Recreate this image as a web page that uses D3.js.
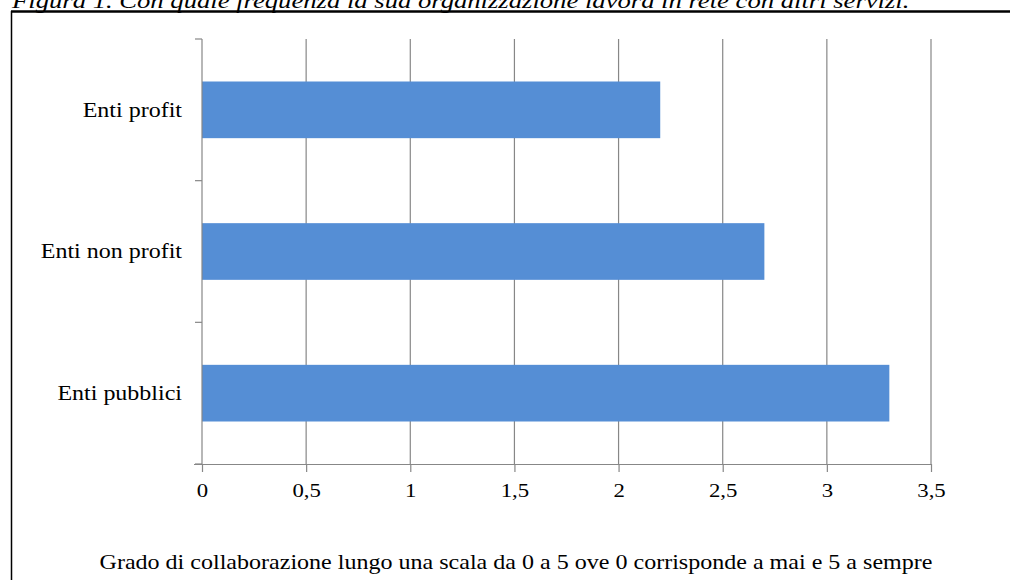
<!DOCTYPE html>
<html>
<head>
<meta charset="utf-8">
<script src="https://cdn.jsdelivr.net/npm/d3@7"></script>
<style>
  html, body { margin: 0; padding: 0; background: #fff; }
  svg { display: block; }
</style>
</head>
<body>
<svg id="chart" width="1010" height="580"></svg>
<script>
// Data
const categories = ["Enti profit", "Enti non profit", "Enti pubblici"];
const values = [2.2, 2.7, 3.3];
const tickValues = [0, 0.5, 1, 1.5, 2, 2.5, 3, 3.5];
const tickLabels = ["0", "0,5", "1", "1,5", "2", "2,5", "3", "3,5"];
const titleText = "Figura 1. Con quale frequenza la sua organizzazione lavora in rete con altri servizi.";
const axisTitle = "Grado di collaborazione lungo una scala da 0 a 5 ove 0 corrisponde a mai e 5 a sempre";

const FONT = '"Liberation Serif", "Times New Roman", "DejaVu Serif", serif';
const svg = d3.select("#chart");
const W = 1010, H = 580;
const plot = { left: 202, right: 931, top: 39, bottom: 464 };
const gridColor = "#878787";
const barColor = "#558ed5";

// Stretch a text element horizontally about its anchor point
function stretch(sel, sx) {
  sel.each(function () {
    const t = d3.select(this);
    const x = +t.attr("x") || 0;
    t.attr("transform", `translate(${x},0) scale(${sx},1) translate(${-x},0)`);
  });
}

// Frame
svg.append("line").attr("x1", 11).attr("x2", W).attr("y1", 11.5).attr("y2", 11.5)
  .attr("stroke", "#000").attr("stroke-width", 2.5);
svg.append("line").attr("x1", 11.5).attr("x2", 11.5).attr("y1", 11).attr("y2", H)
  .attr("stroke", "#000").attr("stroke-width", 1.5);

// Figure caption above the frame
const title = svg.append("text")
  .attr("x", 12).attr("y", 8)
  .style("font-family", FONT)
  .style("font-style", "italic").style("font-size", "22px")
  .attr("fill", "#000")
  .text(titleText);
stretch(title, 898 / title.node().getComputedTextLength());

const x = d3.scaleLinear().domain([0, 3.5]).range([plot.left, plot.right]);
const y = d3.scaleBand().domain(categories).range([plot.top, plot.bottom]).paddingInner(0.6).paddingOuter(0.3);

// Vertical gridlines
svg.append("g").selectAll("line").data(tickValues.filter(v => v > 0)).join("line")
  .attr("x1", d => x(d)).attr("x2", d => x(d))
  .attr("y1", plot.top).attr("y2", plot.bottom)
  .attr("stroke", gridColor).attr("stroke-width", 1.2);

// Bars
svg.append("g").selectAll("rect").data(categories).join("rect")
  .attr("x", x(0))
  .attr("y", d => y(d))
  .attr("width", (d, i) => x(values[i]) - x(0))
  .attr("height", y.bandwidth())
  .attr("fill", barColor);

// Bottom axis
const xAxis = d3.axisBottom(x).tickValues(tickValues)
  .tickFormat((d, i) => tickLabels[i]).tickSize(8).tickSizeOuter(0).tickPadding(12);
const gx = svg.append("g").attr("transform", `translate(0,${plot.bottom})`).call(xAxis)
  .attr("font-family", FONT);
gx.select(".domain").attr("stroke", gridColor).attr("stroke-width", 1.2)
  .attr("d", `M${plot.left - 8},0.5H${plot.right}`);
gx.selectAll(".tick line").attr("stroke", gridColor).attr("stroke-width", 1.2);
gx.selectAll(".tick text").style("font-size", "19px").style("font-family", FONT)
  .attr("fill", "#000").attr("transform", "scale(1.2,1)");

// Left axis: category boundary ticks
const bandEdges = d3.range(categories.length + 1).map(i => plot.top + i * (plot.bottom - plot.top) / categories.length);
svg.append("line").attr("x1", plot.left).attr("x2", plot.left)
  .attr("y1", plot.top).attr("y2", plot.bottom)
  .attr("stroke", gridColor).attr("stroke-width", 1.2);
svg.append("g").selectAll("line").data(bandEdges).join("line")
  .attr("x1", plot.left - 7).attr("x2", plot.left)
  .attr("y1", d => d).attr("y2", d => d)
  .attr("stroke", gridColor).attr("stroke-width", 1.2);

// Category labels
const catLabels = svg.append("g").selectAll("text").data(categories).join("text")
  .attr("x", 182)
  .attr("y", d => y(d) + y.bandwidth() / 2)
  .attr("dy", "0.35em")
  .attr("text-anchor", "end")
  .style("font-family", FONT)
  .style("font-size", "20px")
  .attr("fill", "#000")
  .text(d => d);
stretch(catLabels, 1.2);

// Axis title
const at = svg.append("text")
  .attr("x", 516).attr("y", 569)
  .attr("text-anchor", "middle")
  .style("font-family", FONT)
  .style("font-size", "20px")
  .attr("fill", "#000")
  .text(axisTitle);
stretch(at, 833 / at.node().getComputedTextLength());
</script>
</body>
</html>
